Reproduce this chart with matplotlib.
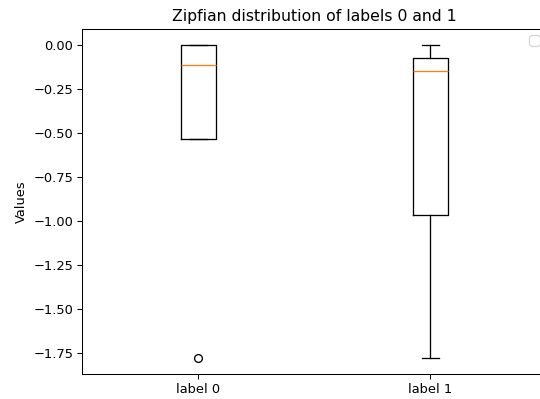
import matplotlib
matplotlib.use("Agg")
import matplotlib.pyplot as plt

# box statistics
labels = ["label 0", "label 1"]
medians = [-0.113, -0.147]
q1 = [-0.536, -0.965]
q3 = [0.0, -0.076]
whislo = [-0.536, -1.78]
whishi = [0.0, 0.0]
fliers = [[-1.78], []]

stats = [
    {"label": labels[i], "med": medians[i], "q1": q1[i], "q3": q3[i],
     "whislo": whislo[i], "whishi": whishi[i], "fliers": fliers[i]}
    for i in range(len(labels))
]

# the reference looks like a default figure shrunk to ~93% and cropped
dpi = 93.4
fig = plt.figure(figsize=(540 / dpi, 399 / dpi), dpi=dpi)
ax = fig.add_axes([82.3 / 540, 1 - 374 / 399, 464 / 540, 345 / 399])
ax.bxp(stats, widths=0.15)
ax.set_title("Zipfian distribution of labels 0 and 1")
ax.set_ylabel("Values")
ax.legend(handles=[])  # empty legend, as in the original

fig.savefig("out.png", dpi=dpi)
